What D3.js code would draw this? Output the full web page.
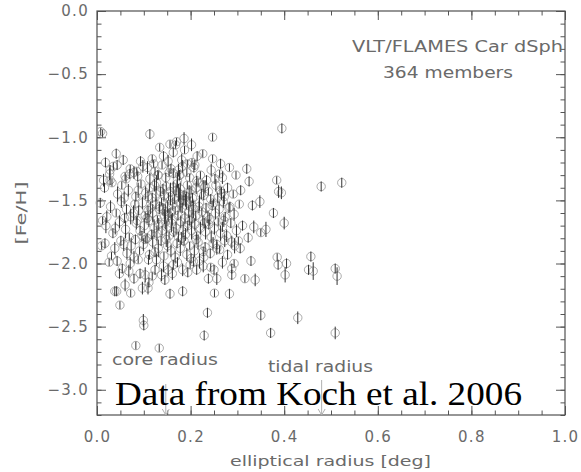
<!DOCTYPE html>
<html>
<head>
<meta charset="utf-8">
<script src="https://cdn.jsdelivr.net/npm/d3@7"></script>
<style>
  html, body { margin: 0; padding: 0; background: #fff; }
  svg { display: block; }
  .lbl { font-family: "DejaVu Sans", sans-serif; fill: #6a6a6a; }
</style>
</head>
<body>
<svg id="chart" width="581" height="472"></svg>
<script>
// Carina dSph members: [elliptical radius (deg), [Fe/H], [Fe/H] error]
const outerMembers = [
  [0.395,-0.93,0.04],[0.320,-1.25,0.04],[0.325,-1.35,0.04],[0.384,-1.34,0.03],[0.388,-1.43,0.05],
  [0.394,-1.44,0.05],[0.479,-1.39,0.04],[0.523,-1.36,0.04],[0.332,-1.54,0.04],[0.348,-1.51,0.05],
  [0.377,-1.60,0.04],[0.400,-1.68,0.05],[0.335,-1.71,0.05],[0.350,-1.755,0.03],[0.361,-1.73,0.06],
  [0.323,-1.795,0.04],[0.329,-1.98,0.04],[0.385,-1.95,0.03],[0.387,-2.01,0.04],[0.405,-2.00,0.04],
  [0.402,-2.09,0.06],[0.457,-1.945,0.04],[0.452,-2.05,0.04],[0.462,-2.06,0.07],[0.509,-2.04,0.04],
  [0.513,-2.10,0.07],[0.316,-2.12,0.03],[0.338,-2.13,0.05],[0.350,-2.41,0.04],[0.429,-2.43,0.05],
  [0.371,-2.55,0.04],[0.509,-2.55,0.05]
];

const metalPoorMembers = [
  [0.049,-2.33,0.03],[0.099,-2.45,0.05],[0.100,-2.49,0.04],[0.083,-2.65,0.03],[0.133,-2.67,0.03],
  [0.236,-2.39,0.04],[0.229,-2.57,0.04],[0.026,-1.99,0.03],[0.010,-1.86,0.03],[0.038,-2.22,0.04],
  [0.042,-2.22,0.04],[0.060,-2.17,0.05],[0.072,-2.235,0.03],[0.097,-2.195,0.05],[0.109,-2.195,0.05],
  [0.111,-2.15,0.04],[0.156,-2.24,0.04],[0.183,-2.22,0.04],[0.251,-2.235,0.03],[0.283,-2.24,0.04],
  [0.048,-2.08,0.04],[0.068,-2.06,0.05],[0.092,-2.08,0.04],[0.103,-2.09,0.06],[0.124,-2.05,0.04],
  [0.138,-2.09,0.05],[0.145,-2.13,0.04],[0.152,-2.05,0.05],[0.110,-1.97,0.04],[0.127,-1.97,0.05],
  [0.163,-2.01,0.04],[0.183,-2.05,0.05],[0.199,-2.01,0.03],[0.213,-2.05,0.04],[0.227,-2.02,0.05],
  [0.238,-2.12,0.04],[0.250,-2.05,0.04],[0.256,-2.12,0.05],[0.288,-2.04,0.04],[0.288,-2.09,0.04],
  [0.288,-1.83,0.05],[0.256,-1.85,0.04],[0.256,-1.88,0.05],[0.227,-1.905,0.04],[0.206,-1.985,0.04]
];

const metalRichMembers = [
  [0.008,-0.955,0.03],[0.012,-0.97,0.03],[0.113,-0.975,0.04],[0.186,-1.01,0.05],[0.170,-1.035,0.03],
  [0.156,-1.055,0.03],[0.142,-1.15,0.04],[0.202,-1.06,0.05],[0.247,-1.00,0.03],[0.041,-1.13,0.04],
  [0.209,-1.22,0.04],[0.264,-1.21,0.04],[0.268,-1.32,0.05],[0.028,-1.26,0.04],[0.035,-1.23,0.03],
  [0.014,-1.34,0.05],[0.028,-1.34,0.04],[0.108,-1.24,0.05],[0.085,-1.27,0.03],[0.070,-1.29,0.04],
  [0.060,-1.31,0.03],[0.130,-1.30,0.04],[0.163,-1.285,0.04],[0.174,-1.26,0.05],[0.177,-1.30,0.04],
  [0.213,-1.345,0.04],[0.227,-1.38,0.04],[0.266,-1.445,0.05],[0.270,-1.51,0.05],[0.284,-1.55,0.04]
];

const coreMembers = [
  [0.134,-1.08,0.03],[0.163,-1.12,0.04],[0.187,-1.10,0.03],[0.214,-1.15,0.04],[0.118,-1.17,0.03],
  [0.181,-1.18,0.05],[0.226,-1.13,0.03],[0.093,-1.19,0.04],[0.247,-1.17,0.03],[0.152,-1.19,0.05],
  [0.203,-1.20,0.03],[0.056,-1.18,0.04],[0.168,-1.06,0.03],
  [0.043,-1.22,0.04],[0.071,-1.25,0.03],[0.098,-1.23,0.05],[0.124,-1.27,0.03],[0.139,-1.22,0.03],
  [0.158,-1.25,0.04],[0.183,-1.23,0.05],[0.192,-1.28,0.03],[0.207,-1.24,0.04],[0.221,-1.30,0.03],
  [0.244,-1.26,0.05],[0.262,-1.29,0.03],[0.087,-1.31,0.04],[0.113,-1.33,0.05],[0.131,-1.30,0.03],
  [0.147,-1.32,0.04],[0.172,-1.34,0.06],[0.198,-1.32,0.03],[0.234,-1.34,0.04],[0.062,-1.33,0.03],
  [0.027,-1.29,0.05],[0.283,-1.24,0.03],[0.176,-1.30,0.04],[0.079,-1.28,0.05],[0.154,-1.28,0.03],
  [0.193,-1.21,0.03],[0.252,-1.33,0.04],[0.297,-1.30,0.03],[0.018,-1.20,0.04],[0.121,-1.21,0.03],
  [0.016,-1.40,0.04],[0.044,-1.45,0.06],[0.053,-1.38,0.03],[0.067,-1.42,0.05],[0.083,-1.47,0.04],
  [0.094,-1.37,0.03],[0.104,-1.44,0.05],[0.112,-1.40,0.03],[0.118,-1.48,0.04],[0.127,-1.36,0.06],
  [0.136,-1.43,0.04],[0.143,-1.46,0.05],[0.148,-1.39,0.03],[0.157,-1.43,0.07],[0.166,-1.49,0.04],
  [0.171,-1.37,0.03],[0.178,-1.41,0.05],[0.186,-1.46,0.04],[0.193,-1.38,0.03],[0.197,-1.44,0.06],
  [0.204,-1.48,0.04],[0.212,-1.40,0.05],[0.216,-1.36,0.03],[0.223,-1.45,0.04],[0.231,-1.39,0.05],
  [0.238,-1.43,0.03],[0.243,-1.49,0.04],[0.254,-1.38,0.05],[0.263,-1.42,0.03],[0.272,-1.47,0.06],
  [0.279,-1.40,0.04],[0.291,-1.45,0.03],[0.307,-1.42,0.04],[0.058,-1.48,0.05],[0.032,-1.36,0.03],
  [0.109,-1.47,0.05],[0.141,-1.41,0.04],[0.174,-1.44,0.07],[0.201,-1.42,0.03],[0.228,-1.46,0.04],
  [0.088,-1.42,0.06],[0.153,-1.47,0.03],[0.123,-1.38,0.05],[0.258,-1.48,0.04],[0.189,-1.50,0.05],
  [0.007,-1.52,0.04],[0.029,-1.55,0.05],[0.041,-1.60,0.03],[0.052,-1.51,0.05],[0.063,-1.57,0.04],
  [0.072,-1.63,0.06],[0.081,-1.53,0.03],[0.089,-1.58,0.04],[0.097,-1.52,0.05],[0.103,-1.62,0.03],
  [0.114,-1.56,0.05],[0.119,-1.60,0.07],[0.126,-1.53,0.04],[0.133,-1.57,0.04],[0.138,-1.51,0.03],
  [0.144,-1.63,0.06],[0.151,-1.55,0.05],[0.156,-1.60,0.04],[0.162,-1.53,0.05],[0.167,-1.58,0.03],
  [0.173,-1.62,0.04],[0.177,-1.52,0.06],[0.182,-1.56,0.04],[0.188,-1.64,0.05],[0.191,-1.54,0.03],
  [0.196,-1.59,0.05],[0.199,-1.51,0.04],[0.206,-1.57,0.07],[0.211,-1.62,0.04],[0.218,-1.55,0.05],
  [0.224,-1.59,0.03],[0.219,-1.52,0.06],[0.233,-1.56,0.04],[0.237,-1.63,0.05],[0.246,-1.54,0.04],
  [0.253,-1.60,0.05],[0.249,-1.52,0.03],[0.261,-1.57,0.06],[0.274,-1.63,0.04],[0.282,-1.56,0.04],
  [0.293,-1.61,0.05],[0.304,-1.53,0.03],[0.021,-1.63,0.05],[0.059,-1.64,0.04],[0.078,-1.60,0.06],
  [0.107,-1.64,0.04],[0.129,-1.65,0.03],[0.161,-1.65,0.05],[0.203,-1.64,0.04],[0.241,-1.65,0.05],
  [0.019,-1.70,0.06],[0.034,-1.76,0.04],[0.048,-1.67,0.05],[0.061,-1.73,0.07],[0.069,-1.79,0.03],
  [0.084,-1.68,0.05],[0.092,-1.74,0.04],[0.101,-1.70,0.06],[0.096,-1.78,0.04],[0.111,-1.66,0.05],
  [0.122,-1.72,0.07],[0.117,-1.77,0.04],[0.132,-1.69,0.05],[0.139,-1.74,0.04],[0.146,-1.67,0.06],
  [0.149,-1.71,0.05],[0.154,-1.78,0.03],[0.159,-1.68,0.07],[0.164,-1.75,0.04],[0.169,-1.72,0.05],
  [0.174,-1.79,0.04],[0.179,-1.67,0.05],[0.184,-1.73,0.06],[0.194,-1.70,0.04],[0.189,-1.77,0.05],
  [0.198,-1.66,0.04],[0.202,-1.74,0.07],[0.209,-1.69,0.05],[0.213,-1.78,0.03],[0.221,-1.72,0.05],
  [0.226,-1.66,0.04],[0.232,-1.75,0.06],[0.239,-1.69,0.04],[0.244,-1.79,0.05],[0.251,-1.72,0.05],
  [0.259,-1.67,0.03],[0.264,-1.76,0.06],[0.268,-1.71,0.04],[0.277,-1.78,0.05],[0.286,-1.68,0.04],
  [0.298,-1.74,0.05],[0.311,-1.70,0.04],[0.039,-1.72,0.05],[0.086,-1.66,0.04],[0.128,-1.76,0.06],
  [0.107,-1.80,0.04],[0.181,-1.80,0.05],[0.229,-1.68,0.04],[0.271,-1.66,0.05],[0.012,-1.66,0.03],
  [0.017,-1.84,0.04],[0.038,-1.88,0.05],[0.051,-1.82,0.04],[0.064,-1.92,0.05],[0.073,-1.86,0.06],
  [0.082,-1.81,0.04],[0.091,-1.90,0.03],[0.099,-1.85,0.05],[0.112,-1.93,0.04],[0.119,-1.83,0.05],
  [0.131,-1.88,0.07],[0.137,-1.82,0.04],[0.143,-1.94,0.03],[0.151,-1.86,0.05],[0.158,-1.90,0.05],
  [0.171,-1.84,0.04],[0.178,-1.88,0.06],[0.186,-1.82,0.04],[0.192,-1.93,0.05],[0.198,-1.86,0.03],
  [0.208,-1.90,0.05],[0.216,-1.83,0.06],[0.231,-1.87,0.04],[0.242,-1.92,0.04],[0.248,-1.84,0.05],
  [0.262,-1.89,0.03],[0.273,-1.82,0.05],[0.279,-1.93,0.04],[0.294,-1.86,0.06],[0.306,-1.88,0.04],
  [0.031,-1.94,0.03],[0.079,-1.95,0.05],[0.124,-1.91,0.04],[0.167,-1.95,0.05],[0.212,-1.81,0.04],
  [0.103,-1.81,0.03],[0.148,-1.81,0.06],[0.228,-1.95,0.04],[0.057,-1.85,0.05],[0.302,-1.82,0.03],
  [0.043,-1.98,0.04],[0.071,-2.00,0.05],[0.088,-1.97,0.03],[0.142,-2.02,0.05],[0.172,-1.99,0.04],
  [0.194,-2.07,0.04],[0.219,-1.98,0.06],[0.243,-2.03,0.03],[0.268,-1.99,0.05],[0.054,-2.04,0.04],
  [0.118,-2.10,0.03],[0.161,-2.08,0.05],[0.201,-1.96,0.04],[0.293,-2.00,0.03],[0.079,-2.12,0.04],
  [0.141,-1.57,0.05],[0.146,-1.59,0.06],[0.169,-1.42,0.04],[0.176,-1.45,0.05],[0.184,-1.50,0.04],
  [0.179,-1.52,0.07],[0.134,-1.55,0.04],[0.152,-1.62,0.05],[0.191,-1.47,0.04],[0.163,-1.40,0.05],
  [0.126,-1.45,0.06],[0.157,-1.50,0.04],[0.203,-1.55,0.05],[0.109,-1.58,0.04]
];

const xTicks = [0.0, 0.2, 0.4, 0.6, 0.8, 1.0];
const yTicks = [0.0, -0.5, -1.0, -1.5, -2.0, -2.5, -3.0];
const coreRadius = 0.147;
const tidalRadius = 0.48;

(function () {
  const members = [].concat(outerMembers, metalPoorMembers, metalRichMembers, coreMembers);

  const svg = d3.select("#chart");
  const plotLeft = 97, plotRight = 565, plotTop = 11, plotBottom = 415;

  const x = d3.scaleLinear().domain([0, 1]).range([plotLeft, plotRight]);
  const y = d3.scaleLinear().domain([-3.2, 0]).range([plotBottom, plotTop]);

  const fmt = d3.format(".1f");
  const labelFont = "15px";

  // minor tick positions
  const xMinor = d3.range(0, 1.0001, 0.05);
  const yMinor = d3.range(0, -3.2001, -0.1);

  function styleAxis(g) {
    g.select(".domain").remove();
    g.selectAll(".tick line").attr("stroke", "#555").attr("stroke-width", 1);
  }
  function styleLabels(g) {
    g.selectAll("text").attr("class", "lbl").attr("font-size", labelFont)
      .attr("letter-spacing", "1.3px").attr("fill", "#6a6a6a");
  }

  // bottom
  svg.append("g").attr("transform", `translate(0,${plotBottom})`)
    .call(d3.axisBottom(x).tickValues(xMinor).tickSize(-4.5).tickFormat(""))
    .call(styleAxis);
  svg.append("g").attr("transform", `translate(0,${plotBottom})`)
    .call(d3.axisBottom(x).tickValues(xTicks).tickSize(-9).tickSizeOuter(0).tickPadding(16).tickFormat(fmt))
    .call(styleAxis).call(styleLabels);
  // top
  svg.append("g").attr("transform", `translate(0,${plotTop})`)
    .call(d3.axisTop(x).tickValues(xMinor).tickSize(-4.5).tickFormat(""))
    .call(styleAxis);
  svg.append("g").attr("transform", `translate(0,${plotTop})`)
    .call(d3.axisTop(x).tickValues(xTicks).tickSize(-9).tickFormat(""))
    .call(styleAxis);
  // left
  svg.append("g").attr("transform", `translate(${plotLeft},0)`)
    .call(d3.axisLeft(y).tickValues(yMinor).tickSize(-4.5).tickFormat(""))
    .call(styleAxis);
  svg.append("g").attr("transform", `translate(${plotLeft},0)`)
    .call(d3.axisLeft(y).tickValues(yTicks).tickSize(-9).tickPadding(8).tickFormat(fmt))
    .call(styleAxis).call(styleLabels);
  // right
  svg.append("g").attr("transform", `translate(${plotRight},0)`)
    .call(d3.axisRight(y).tickValues(yMinor).tickSize(-4.5).tickFormat(""))
    .call(styleAxis);
  svg.append("g").attr("transform", `translate(${plotRight},0)`)
    .call(d3.axisRight(y).tickValues(yTicks).tickSize(-9).tickFormat(""))
    .call(styleAxis);

  // frame
  svg.append("rect")
    .attr("x", plotLeft).attr("y", plotTop)
    .attr("width", plotRight - plotLeft).attr("height", plotBottom - plotTop)
    .attr("fill", "none").attr("stroke", "#505050").attr("stroke-width", 1.2);

  // members: open circle with vertical error bar
  const pts = svg.append("g");
  pts.selectAll("circle").data(members).join("circle")
    .attr("cx", d => x(d[0])).attr("cy", d => y(d[1])).attr("r", 4.2)
    .attr("fill", "none").attr("stroke", "#959595").attr("stroke-width", 0.8);
  pts.selectAll("line").data(members).join("line")
    .attr("x1", d => x(d[0])).attr("x2", d => x(d[0]))
    .attr("y1", d => y(d[1] + d[2])).attr("y2", d => y(d[1] - d[2]))
    .attr("stroke", "#333").attr("stroke-width", 1);

  // core / tidal radius markers
  function radiusArrow(r, y0) {
    const px = x(r);
    svg.append("line").attr("x1", px).attr("x2", px).attr("y1", y0).attr("y2", plotBottom)
      .attr("stroke", "#b0b0b0").attr("stroke-width", 1);
    svg.append("path")
      .attr("d", `M${px - 3.5},${plotBottom - 6}L${px},${plotBottom}L${px + 3.5},${plotBottom - 6}`)
      .attr("fill", "none").attr("stroke", "#b0b0b0").attr("stroke-width", 1);
  }
  radiusArrow(coreRadius, 384);
  radiusArrow(tidalRadius, 380);

  function label(txt, xx, yy, len, size) {
    return svg.append("text").attr("class", "lbl").attr("x", xx).attr("y", yy)
      .attr("font-size", size)
      .attr("textLength", len).attr("lengthAdjust", "spacingAndGlyphs").text(txt);
  }
  label("core radius", 112, 365, 106, "15px");
  label("tidal radius", 268, 372, 105, "15px");
  label("VLT/FLAMES Car dSph", 352, 52, 211, "15px");
  label("364 members", 383, 78, 130, "15px");

  // axis titles
  label("elliptical radius [deg]", 230, 466, 201, "14px");
  svg.append("text").attr("class", "lbl")
    .attr("transform", "translate(26,213) rotate(-90)")
    .attr("text-anchor", "middle").attr("font-size", "14px")
    .attr("textLength", 63).attr("lengthAdjust", "spacingAndGlyphs")
    .text("[Fe/H]");

  // source note
  svg.append("text")
    .attr("x", 115).attr("y", 405)
    .attr("font-family", "'Liberation Serif', 'Times New Roman', serif")
    .attr("font-size", "34px").attr("fill", "#000")
    .attr("textLength", 407).attr("lengthAdjust", "spacingAndGlyphs")
    .text("Data from Koch et al. 2006");
})();
</script>
</body>
</html>
